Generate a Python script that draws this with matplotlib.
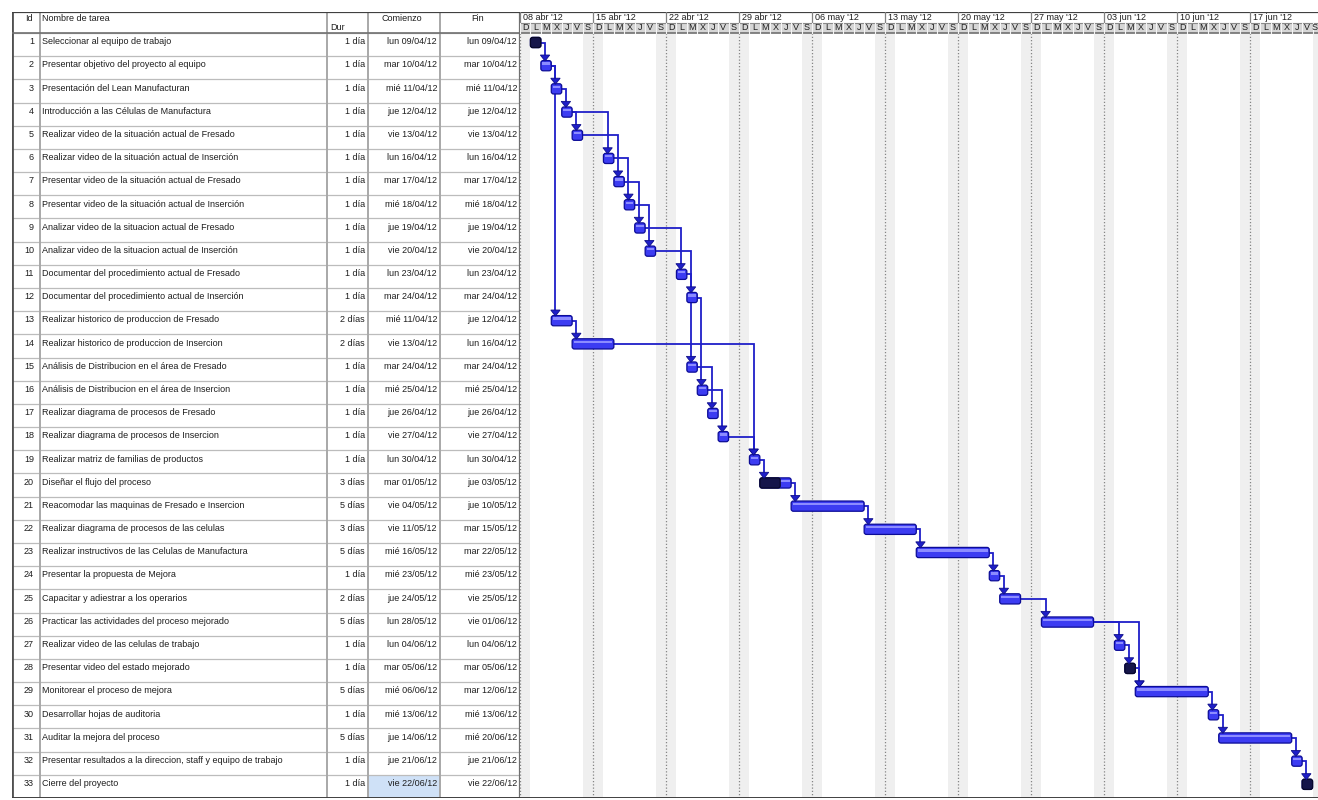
import numpy as np
import matplotlib.pyplot as plt
from matplotlib.patches import Rectangle, Polygon, FancyBboxPatch
from datetime import date, timedelta

plt.rcParams['font.family'] = ['Liberation Sans', 'DejaVu Sans']

# ------------------------------------------------------------
# Project tasks
# ------------------------------------------------------------
task_ids = list(range(1, 34))
task_names = [
    "Seleccionar al equipo de trabajo",
    "Presentar objetivo del proyecto al equipo",
    "Presentación del Lean Manufacturan",
    "Introducción a las Células de Manufactura",
    "Realizar video de la situación actual de Fresado",
    "Realizar video de la situación actual de Inserción",
    "Presentar video de la situación actual de Fresado",
    "Presentar video de la situación actual de Inserción",
    "Analizar video de la situacion actual de Fresado",
    "Analizar video de la situacion actual de Inserción",
    "Documentar del procedimiento actual de Fresado",
    "Documentar del procedimiento actual de Inserción",
    "Realizar historico de produccion de Fresado",
    "Realizar historico de produccion de Insercion",
    "Análisis de Distribucion en el área de Fresado",
    "Análisis de Distribucion en el área de Insercion",
    "Realizar diagrama de procesos de Fresado",
    "Realizar diagrama de procesos de Insercion",
    "Realizar matriz de familias de productos",
    "Diseñar el flujo del proceso",
    "Reacomodar las maquinas de Fresado e Insercion",
    "Realizar diagrama de procesos de las celulas",
    "Realizar instructivos de las Celulas de Manufactura",
    "Presentar la propuesta de Mejora",
    "Capacitar y adiestrar a los operarios",
    "Practicar las actividades del proceso mejorado",
    "Realizar video de las celulas de trabajo",
    "Presentar video del estado mejorado",
    "Monitorear el proceso de mejora",
    "Desarrollar hojas de auditoria",
    "Auditar la mejora del proceso",
    "Presentar resultados a la direccion, staff y equipo de trabajo",
    "Cierre del proyecto",
]
durations = [1, 1, 1, 1, 1, 1, 1, 1, 1, 1, 1, 1, 2, 2, 1, 1, 1,
             1, 1, 3, 5, 3, 5, 1, 2, 5, 1, 1, 5, 1, 5, 1, 1]
start_dates = ["09/04/12", "10/04/12", "11/04/12", "12/04/12", "13/04/12",
               "16/04/12", "17/04/12", "18/04/12", "19/04/12", "20/04/12",
               "23/04/12", "24/04/12", "11/04/12", "13/04/12", "24/04/12",
               "25/04/12", "26/04/12", "27/04/12", "30/04/12", "01/05/12",
               "04/05/12", "11/05/12", "16/05/12", "23/05/12", "24/05/12",
               "28/05/12", "04/06/12", "05/06/12", "06/06/12", "13/06/12",
               "14/06/12", "21/06/12", "22/06/12"]
finish_dates = ["09/04/12", "10/04/12", "11/04/12", "12/04/12", "13/04/12",
                "16/04/12", "17/04/12", "18/04/12", "19/04/12", "20/04/12",
                "23/04/12", "24/04/12", "12/04/12", "16/04/12", "24/04/12",
                "25/04/12", "26/04/12", "27/04/12", "30/04/12", "03/05/12",
                "10/05/12", "15/05/12", "22/05/12", "23/05/12", "25/05/12",
                "01/06/12", "04/06/12", "05/06/12", "12/06/12", "13/06/12",
                "20/06/12", "21/06/12", "22/06/12"]
# fraction complete (dark overlay)
progress = [1.0, 0, 0, 0, 0, 0, 0, 0, 0, 0, 0, 0, 0, 0, 0, 0, 0,
            0, 0, 0.65, 0, 0, 0, 0, 0, 0, 0, 1.0, 0, 0, 0, 0, 1.0]
# finish-to-start dependencies (predecessor, successor)
links = [(1, 2), (2, 3), (2, 13), (3, 4), (4, 5), (4, 6), (5, 7), (6, 8),
         (7, 9), (8, 10), (9, 11), (10, 12), (11, 15), (12, 16), (13, 14),
         (14, 19), (15, 17), (16, 18), (18, 19), (19, 20), (20, 21),
         (21, 22), (22, 23), (23, 24), (24, 25), (25, 26), (26, 27),
         (26, 29), (27, 28), (28, 29), (29, 30), (30, 31), (31, 32),
         (32, 33)]

week_days = ["lun", "mar", "mié", "jue", "vie", "sáb", "dom"]
month_abbr = {4: "abr", 5: "may", 6: "jun"}
day_letters = ["D", "L", "M", "X", "J", "V", "S"]

timeline_start = date(2012, 4, 8)
n_weeks = 11


def parse(s):
    d, m, y = s.split("/")
    return date(2000 + int(y), int(m), int(d))


starts = [parse(s) for s in start_dates]
finishes = [parse(s) for s in finish_dates]
x_start = np.array([(d - timeline_start).days for d in starts], dtype=float)
x_end = np.array([(d - timeline_start).days + 1 for d in finishes], dtype=float)

# ------------------------------------------------------------
# Figure layout
# ------------------------------------------------------------
W, H = 1318, 800
fig = plt.figure(figsize=(W / 100, H / 100), dpi=100)
top_px, bot_px = 12, 798
left_px, split_px = 12, 520
header_px = 21
n_rows = len(task_ids)
row_px = (bot_px - top_px - header_px) / n_rows
hdr = header_px / row_px

ax_t = fig.add_axes([left_px / W, 1 - bot_px / H, (split_px - left_px) / W,
                     (bot_px - top_px) / H])
ax_g = fig.add_axes([split_px / W, 1 - bot_px / H, (W - split_px) / W,
                     (bot_px - top_px) / H])
for ax in (ax_t, ax_g):
    ax.set_ylim(n_rows, -hdr)
    ax.axis("off")

tab_w = split_px - left_px
ax_t.set_xlim(0, tab_w)
day_px = 73 / 7
x_max = (W - split_px) / day_px
ax_g.set_xlim(0, x_max)

txt = "#1e1e1e"
fs = 6.5

# ------------------------------------------------------------
# Table
# ------------------------------------------------------------
col_edges = [28, 315, 356, 428]
ax_t.add_patch(Rectangle((356, n_rows - 1), 72, 1, fc="#cfe1f7", ec="none"))
for r in range(n_rows + 1):
    ax_t.plot([0, tab_w], [r, r], color="#bcbcbc", lw=0.9)
for cx in col_edges:
    ax_t.plot([cx, cx], [-hdr, n_rows], color="#a8a8a8", lw=1.4)
ax_t.plot([0, 0], [-hdr, n_rows], color="#505050", lw=2.0)
ax_t.plot([tab_w, tab_w], [-hdr, n_rows], color="#707070", lw=1.6)
ax_t.plot([0, tab_w], [-hdr, -hdr], color="#404040", lw=1.6)
ax_t.plot([0, tab_w], [n_rows, n_rows], color="#404040", lw=1.4)
ax_t.plot([0, tab_w], [0, 0], color="#707070", lw=1.2)

hy = -hdr + 0.3
ax_t.text(17, hy, "Id", ha="center", va="center", fontsize=fs, color=txt)
ax_t.text(30, hy, "Nombre de tarea", ha="left", va="center", fontsize=fs, color=txt)
ax_t.text(318, -0.22, "Dur", ha="left", va="center", fontsize=fs, color=txt)
ax_t.text(390, hy, "Comienzo", ha="center", va="center", fontsize=fs, color=txt)
ax_t.text(466, hy, "Fin", ha="center", va="center", fontsize=fs, color=txt)

for i in range(n_rows):
    y = i + 0.38
    dur_lbl = f"{durations[i]} día" if durations[i] == 1 else f"{durations[i]} días"
    s_lbl = f"{week_days[starts[i].weekday()]} {start_dates[i]}"
    f_lbl = f"{week_days[finishes[i].weekday()]} {finish_dates[i]}"
    ax_t.text(22, y, str(task_ids[i]), ha="right", va="center", fontsize=fs, color=txt)
    ax_t.text(30, y, task_names[i], ha="left", va="center", fontsize=fs, color=txt)
    ax_t.text(353, y, dur_lbl, ha="right", va="center", fontsize=fs, color=txt)
    ax_t.text(425, y, s_lbl, ha="right", va="center", fontsize=fs, color=txt)
    ax_t.text(505, y, f_lbl, ha="right", va="center", fontsize=fs, color=txt)

# ------------------------------------------------------------
# Timescale header
# ------------------------------------------------------------
n_days = n_weeks * 7
mid = -hdr / 2
ax_g.add_patch(Rectangle((0, mid), n_days, -mid, fc="#d6d6d6", ec="none", zorder=1))
ax_g.plot([0, n_days], [-hdr, -hdr], color="#404040", lw=1.6, zorder=2)
ax_g.plot([0, n_days], [mid, mid], color="#8a8a8a", lw=0.8, zorder=2)
ax_g.plot([0, n_days], [0, 0], color="#707070", lw=1.2, zorder=2)
for k in range(n_weeks):
    wd = timeline_start + timedelta(days=7 * k)
    ax_g.plot([7 * k, 7 * k], [-hdr, mid], color="#808080", lw=0.9, zorder=2)
    ax_g.text(7 * k + 0.25, (-hdr + mid) / 2,
              f"{wd.day:02d} {month_abbr[wd.month]} '12",
              ha="left", va="center", fontsize=fs, color=txt, zorder=3)
for d in range(n_days):
    ax_g.plot([d, d], [mid, 0], color="#f4f4f4", lw=0.8, zorder=2)
    if d + 0.5 < x_max - 0.3:
        ax_g.text(d + 0.5, mid / 2, day_letters[d % 7], ha="center",
                  va="center", fontsize=fs, color=txt, zorder=3)
    elif d < x_max:
        ax_g.text(x_max - 0.05, mid / 2, day_letters[d % 7], ha="right",
                  va="center", fontsize=fs, color=txt, zorder=3)

# nonworking days and week separators
for k in range(n_weeks + 1):
    ax_g.add_patch(Rectangle((7 * k - 1, 0), 2, n_rows, fc="#efefef",
                             ec="none", zorder=0))
    ax_g.plot([7 * k, 7 * k], [0, n_rows], color="#858585", lw=0.9,
              linestyle=(0, (1, 1.6)), zorder=1)
ax_g.plot([0, n_days], [n_rows, n_rows], color="#404040", lw=1.4)

# ------------------------------------------------------------
# Bars and links
# ------------------------------------------------------------
bar_c = 0.41
bar_h = 0.44
arr_h = 0.24
arr_w = 0.45
link_col = "#1f1fc8"
aspect = day_px / row_px

for p, s in links:
    pi, si = p - 1, s - 1
    xe, yp = x_end[pi], pi + bar_c
    xv = max(xe + 0.3, x_start[si] + 0.4)
    ytop = si + bar_c - bar_h / 2
    ax_g.plot([xe, xv, xv], [yp, yp, ytop - arr_h], color=link_col, lw=1.3,
              zorder=2, solid_joinstyle="miter")
    ax_g.add_patch(Polygon([(xv - arr_w, ytop - arr_h), (xv + arr_w, ytop - arr_h),
                            (xv, ytop + 0.02)], closed=True, fc=link_col,
                           ec="#10108a", lw=0.6, zorder=4))

for i in range(n_rows):
    x0, w = x_start[i], x_end[i] - x_start[i]
    y0 = i + bar_c - bar_h / 2
    ax_g.add_patch(FancyBboxPatch((x0, y0), w, bar_h,
                                  boxstyle="round,pad=0,rounding_size=0.22",
                                  mutation_aspect=aspect,
                                  fc="#3c3cf2", ec="#0c0c96", lw=0.9, zorder=3))
    ax_g.add_patch(Rectangle((x0 + 0.15, y0 + 0.08), w - 0.3, 0.1,
                             fc="#8c8cff", ec="none", zorder=3))
    if progress[i] > 0:
        ax_g.add_patch(FancyBboxPatch((x0, y0), w * progress[i], bar_h,
                                      boxstyle="round,pad=0,rounding_size=0.22",
                                      mutation_aspect=aspect,
                                      fc="#15154a", ec="#08082a", lw=0.9,
                                      zorder=3))

fig.savefig("out.png", dpi=100)
